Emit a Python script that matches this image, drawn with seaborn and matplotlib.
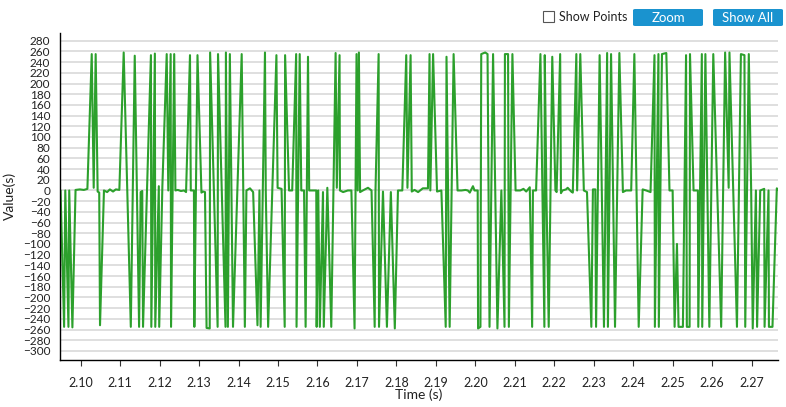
import numpy as np
import pandas as pd
import matplotlib
matplotlib.use("Agg")
import matplotlib.pyplot as plt
from matplotlib.patches import FancyBboxPatch, Rectangle
import seaborn as sns

# time stamps (ms) and sample values
time_ms = [
	2094.9, 2095.8, 2096.1, 2096.9, 2097.1, 2097.9, 2098.7, 2099.8, 2100.8, 2101.7,
	2102.8, 2103.3, 2103.8, 2104.3, 2104.7, 2104.9, 2105.9, 2106.7, 2107.4, 2108.2,
	2108.9, 2109.8, 2110.9, 2112.7, 2113.7, 2114.8, 2115.2, 2115.6, 2115.8, 2116.8,
	2117.8, 2117.9, 2118.8, 2118.9, 2119.8, 2119.9, 2120.7, 2121.8, 2122.2, 2122.8,
	2122.9, 2123.7, 2124.0, 2124.6, 2125.4, 2126.2, 2126.7, 2127.7, 2127.9, 2128.7,
	2128.8, 2129.6, 2130.6, 2131.0, 2131.5, 2131.9, 2132.7, 2132.8, 2134.7, 2134.8,
	2136.7, 2136.8, 2137.3, 2137.8, 2138.6, 2140.8, 2141.6, 2142.0, 2142.9, 2143.7,
	2144.8, 2145.3, 2145.6, 2146.7, 2146.9, 2147.5, 2149.6, 2149.9, 2150.9, 2151.7,
	2151.8, 2152.8, 2153.6, 2154.6, 2154.7, 2155.5, 2155.9, 2156.6, 2157.0, 2157.6,
	2157.9, 2159.7, 2159.8, 2160.2, 2160.6, 2161.4, 2161.6, 2162.5, 2163.5, 2164.6,
	2164.9, 2165.6, 2165.7, 2166.5, 2167.7, 2168.6, 2169.4, 2169.9, 2170.2, 2170.5,
	2170.8, 2171.5, 2172.8, 2173.7, 2174.5, 2174.7, 2175.5, 2175.6, 2176.6, 2177.6,
	2178.6, 2179.6, 2180.4, 2181.5, 2182.5, 2182.8, 2183.6, 2183.9, 2184.6, 2185.5,
	2186.7, 2188.0, 2188.4, 2188.6, 2189.3, 2190.3, 2191.4, 2192.5, 2192.7, 2193.5,
	2194.5, 2195.5, 2196.5, 2197.5, 2198.1, 2198.6, 2199.4, 2199.8, 2200.6, 2200.7,
	2201.3, 2201.5, 2202.5, 2203.1, 2203.6, 2204.5, 2205.6, 2206.6, 2207.4, 2207.5,
	2208.3, 2208.5, 2209.4, 2210.2, 2211.4, 2212.2, 2212.9, 2213.8, 2214.4, 2214.6,
	2215.4, 2216.5, 2217.5, 2217.6, 2218.0, 2218.6, 2219.5, 2220.3, 2220.6, 2221.5,
	2221.7, 2222.1, 2223.0, 2223.4, 2224.3, 2224.7, 2225.6, 2225.8, 2226.6, 2227.5,
	2228.3, 2229.4, 2229.8, 2230.4, 2230.6, 2231.5, 2232.6, 2233.4, 2233.6, 2234.4,
	2235.4, 2236.5, 2237.4, 2238.2, 2239.5, 2240.3, 2241.4, 2242.4, 2243.3, 2244.4,
	2245.4, 2245.5, 2246.4, 2246.5, 2247.3, 2248.4, 2249.2, 2250.0, 2250.5, 2251.1,
	2251.5, 2252.6, 2253.4, 2253.6, 2254.3, 2254.4, 2255.3, 2256.4, 2256.5, 2257.4,
	2257.5, 2258.3, 2259.3, 2260.3, 2262.3, 2263.3, 2264.2, 2264.4, 2266.3, 2267.3,
	2268.2, 2268.4, 2269.3, 2269.9, 2270.3, 2271.1, 2271.4, 2272.2, 2273.2, 2273.3,
	2274.3, 2274.4, 2275.3, 2276.4, 2276.9,
]
values = [
	0, -255, 0, -255, 0, -256, 1, 2, 1, 3,
	255, 5, 255, -2, -4, -252, 0, -3, 2, -2,
	2, 1, 258, -255, 252, -255, -3, -1, -255, 0,
	253, -255, 256, -255, 8, -255, 8, 255, 0, 255,
	-255, 255, 0, 1, -1, 0, -3, 253, 0, 0,
	-255, 253, -4, -2, -3, -257, -258, 258, -255, 255,
	-255, 258, -255, 255, -255, 255, -255, 0, 4, -3,
	-252, 0, -255, 258, 0, -255, 253, 5, 3, -255,
	253, 0, 0, 255, -255, 255, 0, 0, -255, 250,
	0, 0, -255, 0, -255, -3, -255, 5, -255, 257,
	5, 253, 0, -3, 0, 0, -258, 255, 0, 258,
	-3, 0, 5, 0, -255, -2, 255, -255, -2, -255,
	-3, -258, 0, 0, 253, 5, 253, -2, 1, -3,
	4, 4, 255, 0, 255, -2, 0, -255, 250, -255,
	255, 0, 0, 1, 0, -4, 8, 0, 0, -258,
	-255, 255, 258, 255, -255, 255, -258, 0, -255, 255,
	255, -255, 255, 0, 0, 3, -2, 6, -255, 0,
	0, 255, -255, 253, 0, -255, 250, 0, -3, 255,
	-5, 0, 2, 5, -2, -4, 255, 0, 255, 0,
	-3, -255, 2, 2, -255, 253, -255, 257, -255, 255,
	-255, 257, -3, 0, 0, 255, -255, 2, 0, -3,
	253, -255, 255, -255, 255, 257, 0, 0, -255, -100,
	-255, -255, 253, -255, -255, 255, 0, 0, -255, 255,
	-255, 255, -255, 255, -255, 258, 5, 258, -255, 255,
	253, -255, 255, 0, -258, 0, -255, 0, 3, -255,
	0, -255, -255, 4, 0,
]

y_ticks = list(range(-300, 281, 20))
x_ticks = [2.10, 2.11, 2.12, 2.13, 2.14, 2.15, 2.16, 2.17, 2.18,
	2.19, 2.20, 2.21, 2.22, 2.23, 2.24, 2.25, 2.26, 2.27]

df = pd.DataFrame({"time": np.array(time_ms) / 1000.0, "value": values})

sns.set_theme(style="white")
plt.rcParams['font.family'] = ['Lato', 'DejaVu Sans']

fig = plt.figure(figsize=(7.86, 4.07), dpi=100)
ax = fig.add_axes([60/786, 1 - 360/407, 718/786, (360 - 32.7)/407])

sns.lineplot(data=df, x="time", y="value", ax=ax, color="#2ca02c",
	linewidth=1.5, sort=False, estimator=None)

ax.set_xlim(2.09476, 2.2767)
ax.set_ylim(-317, 295)
ax.set_yticks(y_ticks)
ax.set_yticklabels([str(v).replace("-", "\u2212") for v in y_ticks], fontsize=8.5, color="#222222")
ax.set_xticks(x_ticks)
ax.set_xticklabels(["%.2f" % v for v in x_ticks], fontsize=9, color="#222222")
ax.yaxis.grid(True, color="#d9d9d9", linewidth=1.2)
ax.set_axisbelow(True)
ax.tick_params(axis="y", length=0, pad=7)
ax.tick_params(axis="x", length=4, width=0.8, color="#333333", pad=8, bottom=True)
for s in ["top", "right"]:
	ax.spines[s].set_visible(False)
for s in ["left", "bottom"]:
	ax.spines[s].set_color("black")
	ax.spines[s].set_linewidth(1.0)
ax.set_xlabel("Time (s)", fontsize=10, color="#222222", labelpad=0)
ax.set_ylabel("Value(s)", fontsize=10, color="#222222", labelpad=5)

# controls above the chart
fig.patches.append(Rectangle((543/786, 1 - 22/407), 11/786, 11/407, transform=fig.transFigure,
	facecolor="white", edgecolor="#555555", linewidth=0.8))
fig.text(559/786, 1 - 17/407, "Show Points", fontsize=9, va="center", ha="left", color="#222222")
for x0, label in [(633, "Zoom"), (713, "Show All")]:
	fig.patches.append(FancyBboxPatch((x0/786, 1 - 26/407), 70/786, 17/407,
		boxstyle="round,pad=0,rounding_size=0.003", transform=fig.transFigure,
		facecolor="#1a93cf", edgecolor="none"))
	fig.text((x0 + 35)/786, 1 - 17.5/407, label, fontsize=9.5, va="center", ha="center", color="white")

fig.savefig("out.png", dpi=100)
